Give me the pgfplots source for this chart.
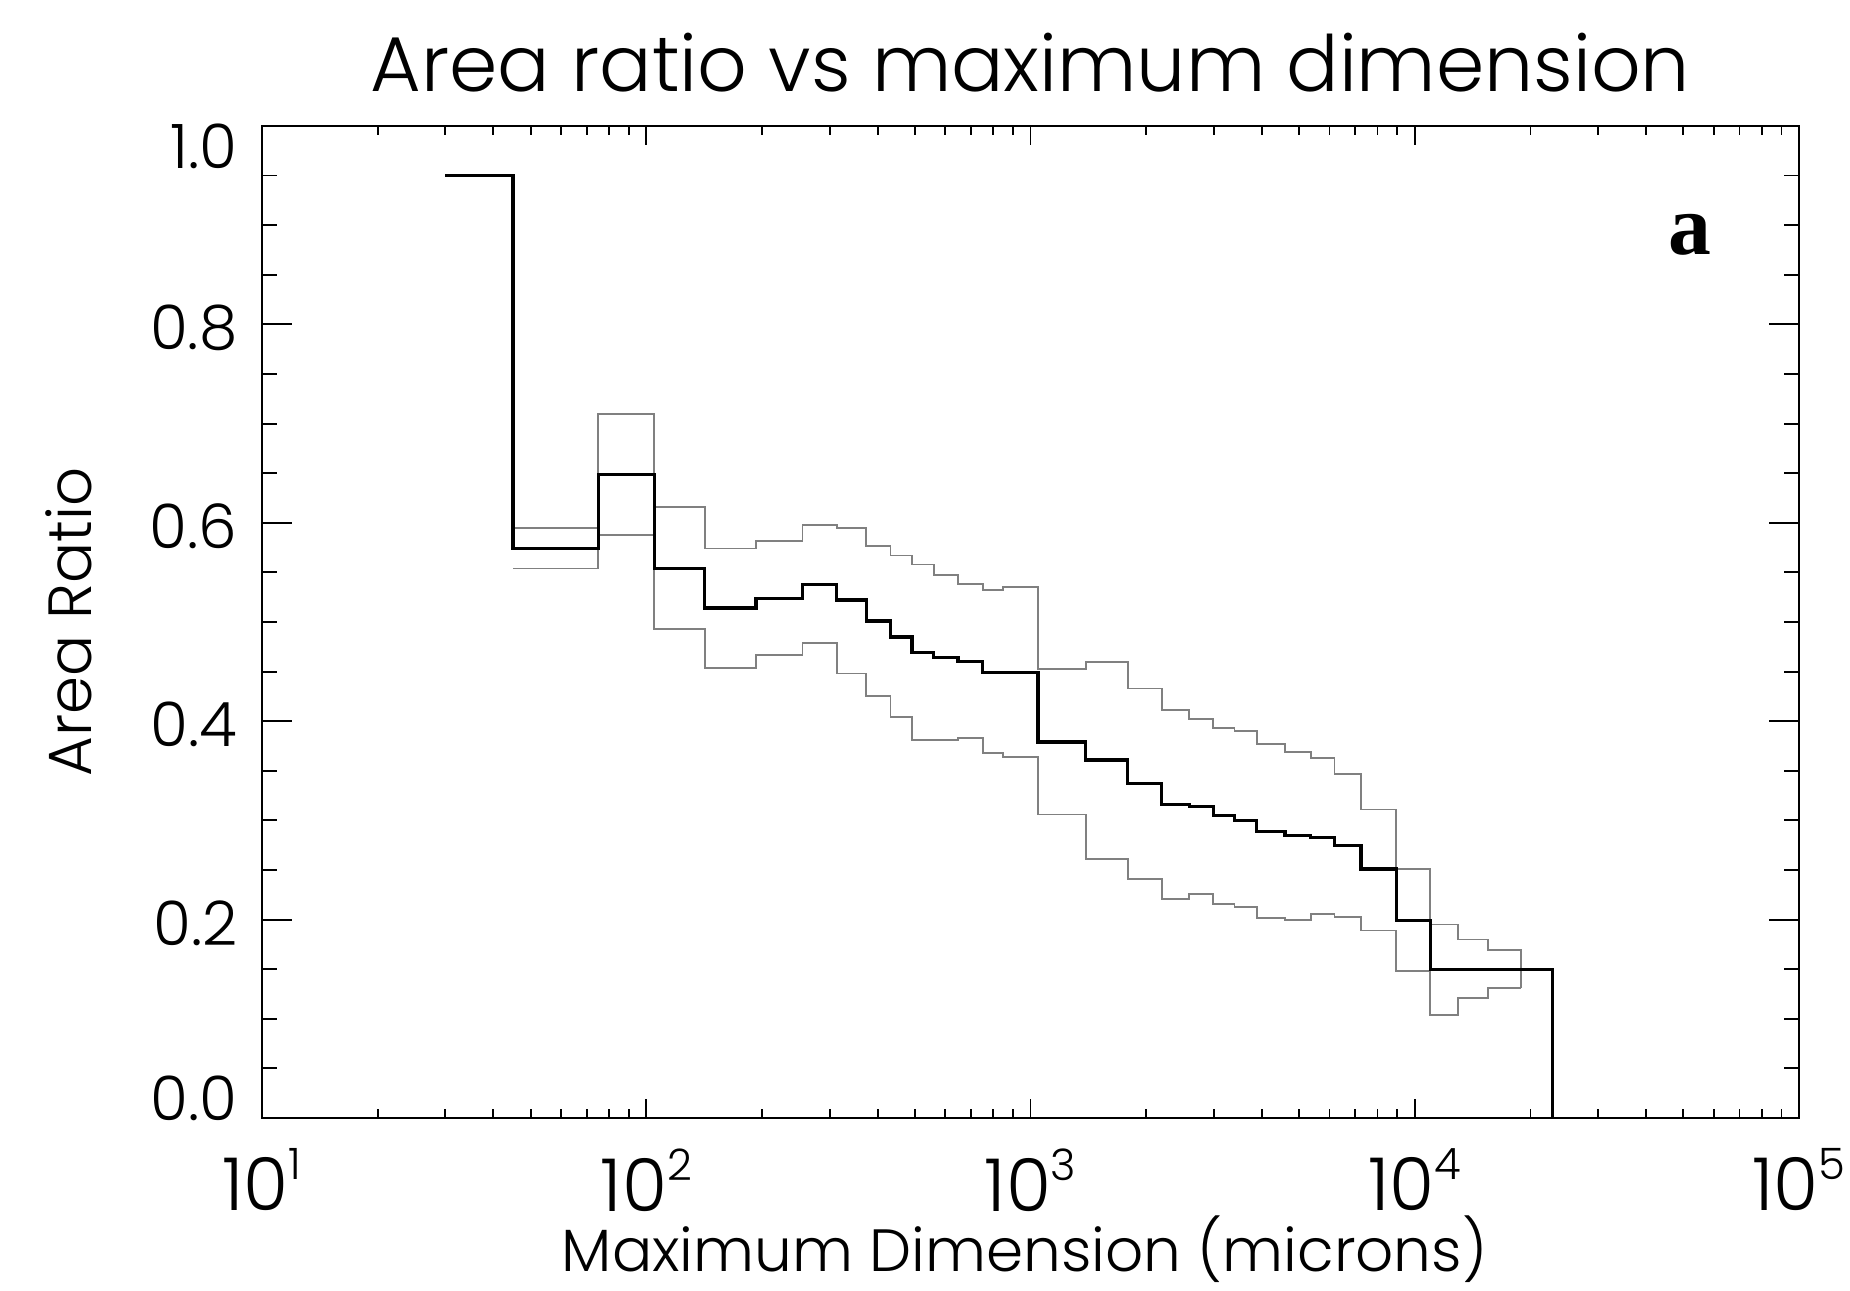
\documentclass[border=0pt]{standalone}
\usepackage{fontspec}
\setmainfont{Poppins}[UprightFont={* Light}]
\newfontfamily\serifa{Liberation Serif}
\usepackage{pgfplots}
\usepackage{pgfplotstable}
\pgfplotsset{compat=1.18}

\pgfplotstableread{
x y
30 0.950
45 0.574
75 0.649
105 0.554
142 0.514
193 0.524
255 0.538
313 0.522
374 0.501
432 0.485
492 0.469
560 0.464
647 0.460
751 0.449
847 0.449
1046 0.379
1393 0.361
1791 0.337
2195 0.316
2590 0.314
2990 0.305
3395 0.300
3881 0.289
4595 0.285
5363 0.283
6182 0.275
7253 0.251
8946 0.199
10970 0.150
22870 0
}\meantab

\pgfplotstableread{
x y
45 0.595
75 0.710
105 0.616
142 0.574
193 0.582
255 0.598
313 0.595
374 0.577
432 0.567
492 0.558
560 0.547
647 0.538
751 0.532
847 0.535
1046 0.453
1393 0.460
1791 0.433
2195 0.411
2590 0.402
2990 0.393
3395 0.390
3881 0.377
4595 0.369
5363 0.363
6182 0.347
7253 0.311
8946 0.251
10970 0.195
12940 0.180
15490 0.169
18920 0.131
}\uppertab

\pgfplotstableread{
x y
45 0.554
75 0.588
105 0.493
142 0.454
193 0.467
255 0.479
313 0.448
374 0.425
432 0.404
492 0.381
560 0.381
647 0.383
751 0.368
847 0.364
1046 0.306
1393 0.261
1791 0.241
2195 0.221
2590 0.226
2990 0.216
3395 0.213
3881 0.202
4595 0.200
5363 0.206
6182 0.203
7253 0.189
8946 0.148
10970 0.104
12940 0.121
15490 0.131
18920 0.131
}\lowertab

\newcommand{\xl}[1]{\mbox{\fontsize{21.9}{24}\selectfont 10\raisebox{9.3pt}{\fontsize{13}{14}\selectfont #1}}}
\newcommand{\yl}[1]{\mbox{#1}}

\pgfplotsset{
  base/.style={
    scale only axis, width=461.1pt, height=297.6pt,
    xmin=10, xmax=100000, ymin=0, ymax=1,
    axis line style={line width=0.6pt},
    tick align=inside,
    every tick/.style={black, line width=0.55pt},
  }
}

\begin{document}
\begin{tikzpicture}
\begin{semilogxaxis}[base,
  ytick=\empty,
  xtick={10,100,1000,10000,100000},
  xticklabels={\xl{1},\xl{2},\xl{3},\xl{4},\xl{5}},
  minor xtick={20,30,40,50,60,70,80,90,200,300,400,500,600,700,800,900,2000,3000,4000,5000,6000,7000,8000,9000,20000,30000,40000,50000,60000,70000,80000,90000},
  major tick length=5.6pt, minor tick length=2.8pt,
  xticklabel style={anchor=north, inner sep=0pt, yshift=-9pt},
  xlabel={Maximum Dimension (microns)},
  xlabel style={at={(axis description cs:0.4961,0)}, anchor=base, yshift=-46pt, inner sep=0pt, font=\fontsize{17.9}{20}\selectfont},
  title={Area ratio vs maximum dimension},
  title style={at={(axis description cs:0.5,1)}, anchor=base, yshift=4.3pt, inner sep=0pt, font=\fontsize{23.3}{26}\selectfont},
]
\end{semilogxaxis}
\begin{semilogxaxis}[base,
  xtick=\empty,
  ytick={0,0.2,0.4,0.6,0.8,1.0},
  yticklabels={{\raisebox{7pt}[\height][\depth]{0.0}},\yl{0.2},\yl{0.4},\yl{0.6},\yl{0.8},{\raisebox{-5pt}[\height][\depth]{1.0}}},
  minor y tick num=3,
  major tick length=9pt, minor tick length=4.5pt,
  yticklabel style={anchor=east, inner sep=0pt, xshift=-7.2pt, yshift=-1pt, font=\fontsize{18.4}{20}\selectfont},
  ylabel={Area Ratio},
  ylabel style={at={(axis description cs:-0.1108,0.5)}, anchor=base, inner sep=0pt, font=\fontsize{18.3}{20}\selectfont},
]
\addplot[const plot, black!50, line width=0.55pt] table[x=x,y=y] {\uppertab};
\addplot[const plot, black!50, line width=0.55pt] table[x=x,y=y] {\lowertab};
\addplot[const plot, black, line width=1pt] table[x=x,y=y] {\meantab};
\node[anchor=base, inner sep=0pt, font=\serifa\bfseries\fontsize{25.7}{28}\selectfont] at (rel axis cs:0.929,0.870) {a};
\coordinate (SW) at (rel axis cs:0,0);
\coordinate (NE) at (rel axis cs:1,1);
\end{semilogxaxis}
\pgfresetboundingbox
\path[use as bounding box] ([xshift=-78.6pt,yshift=-51.6pt]SW) rectangle ([xshift=15.3pt,yshift=37.8pt]NE);
\end{tikzpicture}
\end{document}
